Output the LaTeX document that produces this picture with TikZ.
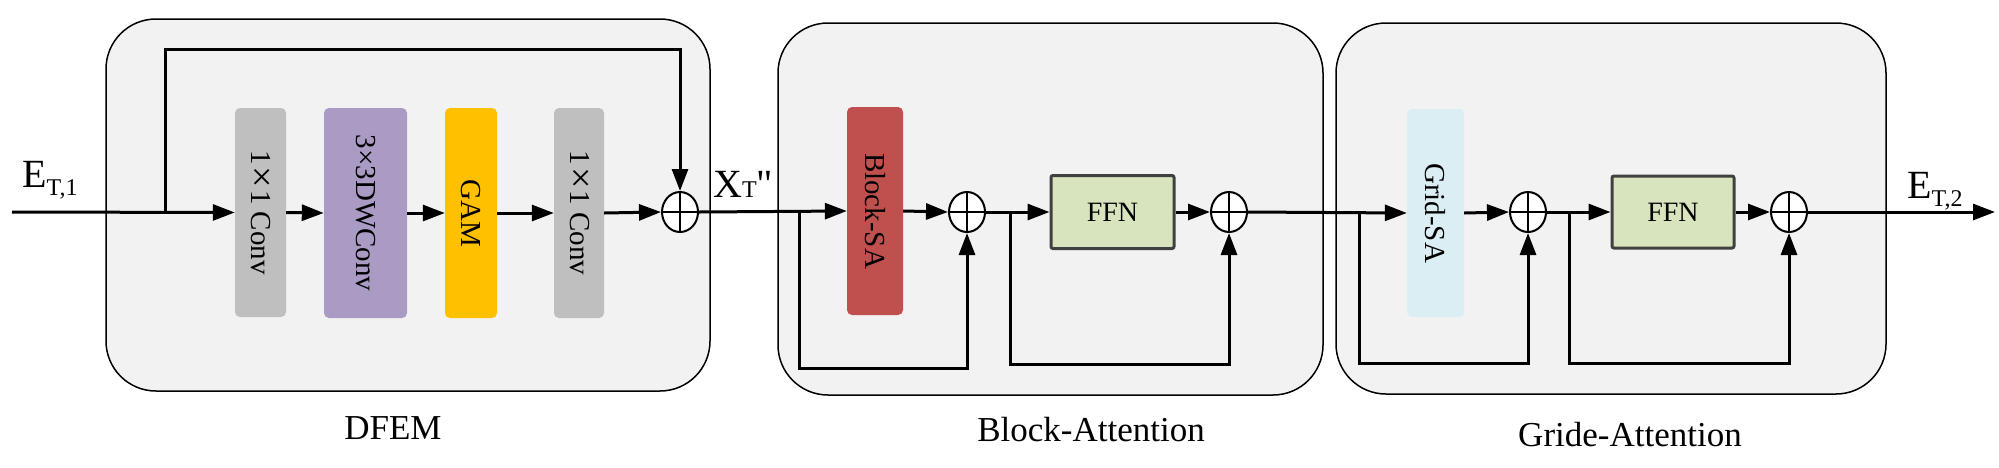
\documentclass[tikz,border=0pt]{standalone}
\usepackage{fontspec}
\setmainfont{Liberation Serif}
\newfontfamily\rawserif{Liberation Serif}[Ligatures=TeXOff]
\usetikzlibrary{arrows.meta,shapes.geometric,calc}
\definecolor{panel}{HTML}{F2F2F2}
\definecolor{convgray}{HTML}{BFBFBF}
\definecolor{dwpurple}{HTML}{A99BC3}
\definecolor{gamyellow}{HTML}{FFC000}
\definecolor{blockred}{HTML}{C0504D}
\definecolor{gridblue}{HTML}{DAEEF3}
\definecolor{ffngreen}{HTML}{D7E4BD}
\definecolor{ffnborder}{HTML}{404040}
\tikzset{
  panelbox/.style={draw=black, line width=1.5pt, fill=panel, rounded corners=50pt},
  opbox/.style={inner sep=0pt, rounded corners=5pt},
  boxtext/.style={rotate=-90, font=\fontsize{29}{29}\selectfont},
  ffnbox/.style={draw=ffnborder, line width=3pt, fill=ffngreen, rounded corners=2pt, inner sep=0pt, font=\fontsize{28}{28}\selectfont},
  sumnode/.style={ellipse, draw=black, line width=2pt, fill=white, minimum width=36pt, minimum height=40pt, inner sep=0pt},
  flow/.style={line width=3pt, -{Triangle[length=22pt,width=16pt]}},
  caption/.style={font=\fontsize{35}{35}\selectfont},
  sym/.style={font=\fontsize{40}{40}\selectfont, inner sep=0pt, anchor=base west}
}
\newcommand{\mksum}[1]{%
  \draw[line width=2pt] (#1.north) -- (#1.south) (#1.west) -- (#1.east);}
\newcommand{\bigtimes}{\kern2pt\raisebox{-2pt}{\fontsize{38}{38}\selectfont ×}\kern2pt}
\begin{document}
\begin{tikzpicture}[x=1pt,y=-1pt]
\useasboundingbox (0,0) rectangle (1999,467);
% panels
\draw[panelbox] (106,19) rectangle (710,391);
\draw[panelbox] (778,23) rectangle (1323,395);
\draw[panelbox] (1336,23) rectangle (1886,394);
% DFEM boxes
\node[opbox, fill=convgray, minimum width=51pt, minimum height=209pt] (conv1) at (260.5,212.5) {};
\node[boxtext] at (conv1.center) {1\bigtimes1 Conv};
\node[opbox, fill=dwpurple, minimum width=83pt, minimum height=210pt] (dw) at (365.5,213) {};
\node[boxtext] at (dw.center) {3×3DWConv};
\node[opbox, fill=gamyellow, minimum width=52pt, minimum height=210pt] (gam) at (471,213) {};
\node[boxtext] at (gam.center) {GAM};
\node[opbox, fill=convgray, minimum width=50pt, minimum height=210pt] (conv2) at (579,213) {};
\node[boxtext] at (conv2.center) {1\bigtimes1 Conv};
\node[sumnode] (sa) at (680,212) {};
% Block attention
\node[opbox, fill=blockred, minimum width=56pt, minimum height=208pt] (bsa) at (875,211) {};
\node[boxtext] at (bsa.center) {Block-SA};
\node[sumnode] (sb1) at (967,212) {};
\node[ffnbox, minimum width=123pt, minimum height=73pt] (ffn1) at (1112.5,212) {FFN};
\node[sumnode] (sb2) at (1229,212) {};
% Grid attention
\node[opbox, fill=gridblue, minimum width=57pt, minimum height=208pt] (gsa) at (1435.5,213) {};
\node[boxtext] at (gsa.center) {Grid-SA};
\node[sumnode] (sg1) at (1528,212) {};
\node[ffnbox, minimum width=122pt, minimum height=72pt] (ffn2) at (1673,212) {FFN};
\node[sumnode] (sg2) at (1789,212) {};
% coordinates
\coordinate (in) at (12,212);
\coordinate (b0) at (165,212);
\coordinate (b1) at (799,212);
\coordinate (b2) at (1010,212);
\coordinate (b3) at (1359,212);
\coordinate (b4) at (1569,212);
\coordinate (out) at (1995,212);
% DFEM connectors
\draw[flow] (in) -- (conv1.west);
\draw[flow] (b0) -- (165,49) -| (sa.north);
\draw[flow] (conv1.east) -- (dw.west);
\draw[flow] (dw.east) -- (gam.west);
\draw[flow] (gam.east) -- (conv2.west);
\draw[flow] (conv2.east) -- (sa.west);
% Block connectors
\draw[flow] (sa.east) -- (bsa.west);
\draw[flow] (b1) -- (799,368) -| (sb1.south);
\draw[flow] (bsa.east) -- (sb1.west);
\draw[flow] (sb1.east) -- (ffn1.west);
\draw[flow] (b2) -- (1010,364) -| (sb2.south);
\draw[flow] (ffn1.east) -- (sb2.west);
% Grid connectors
\draw[flow] (sb2.east) -- (gsa.west);
\draw[flow] (b3) -- (1359,363) -| (sg1.south);
\draw[flow] (gsa.east) -- (sg1.west);
\draw[flow] (sg1.east) -- (ffn2.west);
\draw[flow] (b4) -- (1569,363) -| (sg2.south);
\draw[flow] (ffn2.east) -- (sg2.west);
\draw[flow] (sg2.east) -- (out);
% sum crosses
\mksum{sa}\mksum{sb1}\mksum{sb2}\mksum{sg1}\mksum{sg2}
% labels
\node[sym] (et1) at (22,187) {E\raisebox{-8pt}{\fontsize{24}{24}\selectfont T,1}};
\node[sym] (xt) at (713,197) {X{\fontsize{24}{24}\selectfont T}{\rawserif "}};
\node[sym] (et2) at (1907,198) {E\raisebox{-8pt}{\fontsize{24}{24}\selectfont T,2}};
\node[caption] (l1) at (393,428) {DFEM};
\node[caption] (l2) at (1091,430) {Block-Attention};
\node[caption] (l3) at (1630,435) {Gride-Attention};
\end{tikzpicture}
\end{document}
